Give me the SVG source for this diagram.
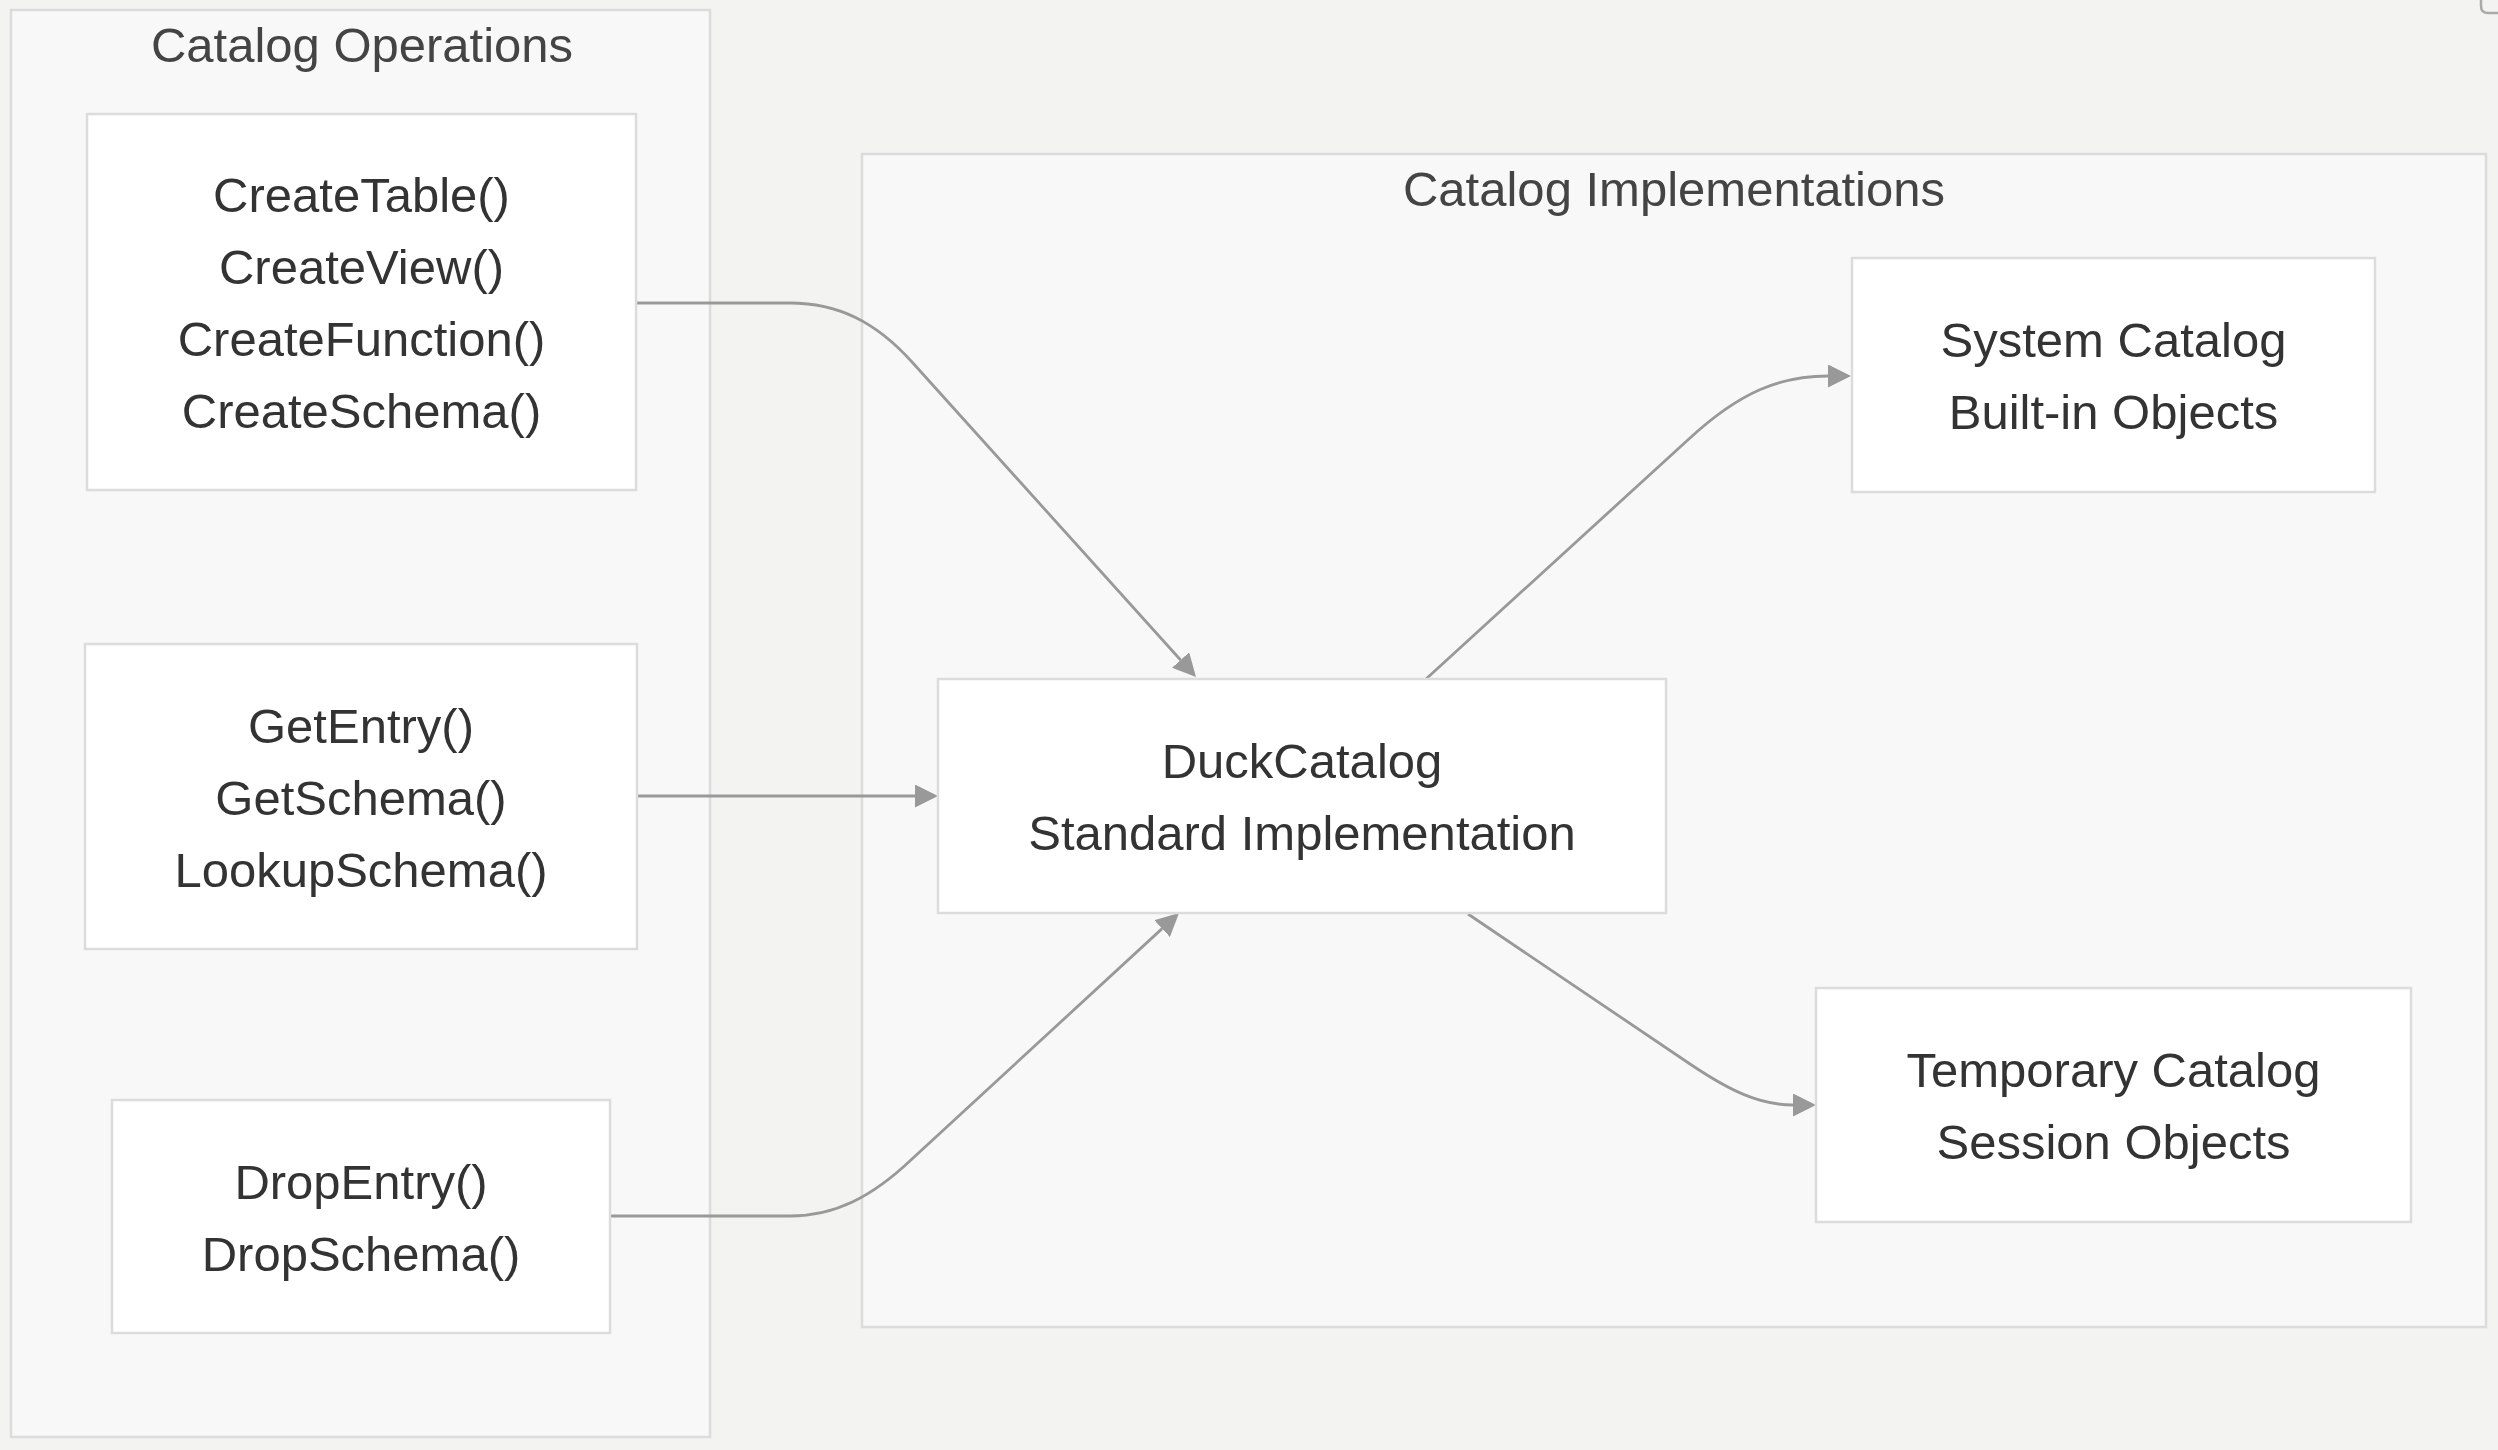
<svg xmlns="http://www.w3.org/2000/svg" width="2498" height="1450" viewBox="0 0 2498 1450">
<style>
.bg{fill:#f3f3f2}
.cluster{fill:#f8f8f8;stroke:#dcdcdc;stroke-width:2.5}
.node{fill:#ffffff;stroke:#dcdcdc;stroke-width:2.5}
.title{font-family:"Liberation Sans",Arial,sans-serif;font-size:49px;fill:#444444;text-anchor:middle}
.label{font-family:"Liberation Sans",Arial,sans-serif;font-size:49px;fill:#333333;text-anchor:middle}
.edge{fill:none;stroke:#999999;stroke-width:2.8}
</style>
<defs>
<marker id="arrow" viewBox="0 0 10 10" refX="0" refY="5" markerUnits="userSpaceOnUse" markerWidth="23" markerHeight="23" orient="auto">
<path d="M0,0 L10,5 L0,10 z" fill="#999999"/>
</marker>
</defs>
<rect class="bg" x="0" y="0" width="2498" height="1450"/>
<path d="M2481,0 L2481,6 Q2481,13 2488,13 L2498,13" fill="none" stroke="#aaaaaa" stroke-width="2.5"/>

<g id="cluster-ops">
<rect class="cluster" x="11" y="10" width="699" height="1427"/>
<text class="title" x="362" y="62">Catalog Operations</text>
</g>
<g id="cluster-impl">
<rect class="cluster" x="862" y="154" width="1624" height="1173"/>
<text class="title" x="1674" y="206">Catalog Implementations</text>
</g>

<g id="connectors">
<path class="edge" d="M636,303 L790,303 C838,303 876,322 912,362 L1180.6,660" marker-end="url(#arrow)"/>
<path class="edge" d="M637,796 L915,796" marker-end="url(#arrow)"/>
<path class="edge" d="M610,1216 L790,1216 C835,1216 872,1197 912,1159 L1162.1,928.6" marker-end="url(#arrow)"/>
<path class="edge" d="M1426,679 L1690,438 C1740,392 1780,376 1828,376" marker-end="url(#arrow)"/>
<path class="edge" d="M1468,914 L1690,1064 C1730,1091 1760,1105 1793,1105" marker-end="url(#arrow)"/>
</g>

<g id="node-create">
<rect class="node" x="87" y="114" width="549" height="376"/>
<text class="label" x="361.5" y="212">CreateTable()</text>
<text class="label" x="361.5" y="284">CreateView()</text>
<text class="label" x="361.5" y="356">CreateFunction()</text>
<text class="label" x="361.5" y="428">CreateSchema()</text>
</g>
<g id="node-get">
<rect class="node" x="85" y="644" width="552" height="305"/>
<text class="label" x="361" y="743">GetEntry()</text>
<text class="label" x="361" y="815">GetSchema()</text>
<text class="label" x="361" y="887">LookupSchema()</text>
</g>
<g id="node-drop">
<rect class="node" x="112" y="1100" width="498" height="233"/>
<text class="label" x="361" y="1199">DropEntry()</text>
<text class="label" x="361" y="1271">DropSchema()</text>
</g>
<g id="node-duck">
<rect class="node" x="938" y="679" width="728" height="234"/>
<text class="label" x="1302" y="778">DuckCatalog</text>
<text class="label" x="1302" y="850">Standard Implementation</text>
</g>
<g id="node-system">
<rect class="node" x="1852" y="258" width="523" height="234"/>
<text class="label" x="2113.5" y="357">System Catalog</text>
<text class="label" x="2113.5" y="429">Built-in Objects</text>
</g>
<g id="node-temp">
<rect class="node" x="1816" y="988" width="595" height="234"/>
<text class="label" x="2113.5" y="1087">Temporary Catalog</text>
<text class="label" x="2113.5" y="1159">Session Objects</text>
</g>
</svg>
